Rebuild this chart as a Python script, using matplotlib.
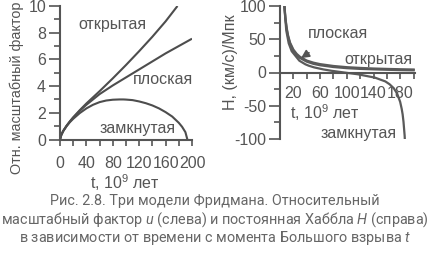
import numpy as np
import matplotlib
matplotlib.use("Agg")
import matplotlib.pyplot as plt
from matplotlib.ticker import MultipleLocator, FixedLocator

plt.rcParams["font.family"] = ["Liberation Sans", "DejaVu Sans"]
plt.rcParams["mathtext.fontset"] = "custom"
plt.rcParams["mathtext.rm"] = "Liberation Sans"
plt.rcParams["mathtext.it"] = "Roboto:italic"
plt.rcParams["axes.unicode_minus"] = False

GRAY = "#555555"
LINE = "#4d4d4d"
FS = 11.5

# масштабный фактор (слева), t в 10^9 лет
t_open  = [0, 2, 5, 10, 15, 20, 30, 40, 60, 80, 100, 120, 140, 160, 178]
a_open  = [0, 0.35, 0.65, 1.03, 1.36, 1.66, 2.2, 2.7, 3.62, 4.58, 5.58, 6.62, 7.7, 8.85, 10.0]
t_flat  = [0, 2, 5, 10, 15, 20, 30, 40, 60, 80, 100, 120, 140, 160, 180, 200]
a_flat  = [0, 0.35, 0.65, 1.03, 1.35, 1.64, 2.15, 2.6, 3.4, 4.05, 4.65, 5.25, 5.85, 6.45, 7.0, 7.55]
t_closed = [0, 2, 5, 10, 15, 20, 30, 40, 50, 60, 70, 80, 90, 96, 100, 110, 120, 130,
            140, 150, 160, 170, 180, 185, 190, 193]
a_closed = [0, 0.35, 0.64, 1.0, 1.3, 1.55, 1.98, 2.33, 2.6, 2.8, 2.92, 2.98, 3.0, 3.0,
            2.99, 2.95, 2.85, 2.72, 2.55, 2.33, 2.05, 1.72, 1.25, 0.95, 0.55, 0.0]

# постоянная Хаббла (справа), (км/с)/Мпк
th_flat = [6, 8, 10, 12, 15, 20, 25, 30, 40, 50, 60, 80, 100, 120, 140, 160, 180, 200]
h_flat  = [108.7, 81.5, 65.2, 54.3, 43.5, 32.6, 26.1, 21.7, 16.3, 13.0, 10.9, 8.2,
           6.5, 5.4, 4.7, 4.1, 3.6, 3.3]
th_open = [6, 8, 10, 12, 15, 20, 25, 30, 40, 50, 60, 80, 100, 120, 140, 160, 180, 200]
h_open  = [110, 83, 67, 56, 45, 34.5, 28, 23.5, 18, 14.8, 12.6, 9.8, 8.0, 6.9, 6.0,
           5.4, 4.9, 4.5]
th_closed = [5.6, 9.4, 13, 17.5, 29, 38, 43, 51, 65, 77, 96, 116, 142, 157.6, 164,
             170.2, 175.4, 179.8, 182.1, 183.5, 184.8, 186.5, 187.5]
h_closed  = [110, 63, 44, 32, 17.7, 12.3, 10.2, 7.7, 4.6, 2.6, 0, -2.6, -7.7, -13.4,
             -17.7, -23.6, -32, -44.2, -54.7, -63, -74.2, -95, -114]

W, H = 430, 259
fig = plt.figure(figsize=(W / 100, H / 100), dpi=100)

def px(x, y):
    return x / W, 1 - y / H

# ---- левая панель
axL = fig.add_axes([60 / W, 1 - 139.5 / H, 132 / W, 133.5 / H])
for t, a in [(t_open, a_open), (t_flat, a_flat), (t_closed, a_closed)]:
    axL.plot(t, a, color=LINE, lw=1.5, solid_capstyle="butt")
axL.set_xlim(0, 200)
axL.set_ylim(0, 10)
axL.spines["top"].set_visible(False)
axL.spines["right"].set_visible(False)
axL.xaxis.set_major_locator(MultipleLocator(40))
axL.xaxis.set_minor_locator(MultipleLocator(20))
axL.yaxis.set_major_locator(MultipleLocator(2))
axL.yaxis.set_minor_locator(MultipleLocator(1))
axL.tick_params(axis="y", which="major", length=8, width=1.2, pad=2, labelsize=FS, colors=GRAY)
axL.tick_params(axis="y", which="minor", length=4, width=1.2, colors=GRAY)
axL.tick_params(axis="x", which="both", length=4, width=1.2, pad=8, labelsize=FS, colors=GRAY)
for s in axL.spines.values():
    s.set_color(GRAY); s.set_linewidth(1.5)
axL.text(79, 8.6, "открытая", fontsize=FS, color=GRAY, ha="center", va="center")
axL.text(156, 4.46, "плоская", fontsize=FS, color=GRAY, ha="center", va="center")
axL.text(117, 0.86, "замкнутая", fontsize=FS, color=GRAY, ha="center", va="center")
fig.text(*px(17, 88), "Отн. масштабный фактор", rotation=90, fontsize=10.4, color=GRAY,
         ha="center", va="center")
fig.text(*px(125, 183), "t, 10$^9$ лет", fontsize=FS, color=GRAY, ha="center", va="center")

# ---- правая панель
axR = fig.add_axes([280 / W, 1 - 139 / H, 135 / W, 133 / H])
for t, h in [(th_open, h_open), (th_flat, h_flat), (th_closed, h_closed)]:
    axR.plot(t, h, color="#5a5a5a", lw=1.6)
axR.set_xlim(0, 202)
axR.set_ylim(-100, 100)
axR.spines["top"].set_visible(False)
axR.spines["right"].set_visible(False)
axR.spines["bottom"].set_position(("data", 0))
axR.xaxis.set_major_locator(FixedLocator([20, 60, 100, 140, 180]))
axR.xaxis.set_minor_locator(FixedLocator([40, 80, 120, 160, 200]))
axR.yaxis.set_major_locator(MultipleLocator(50))
axR.yaxis.set_minor_locator(MultipleLocator(25))
axR.tick_params(axis="y", which="major", length=8, width=1.2, pad=2, labelsize=FS, colors=GRAY)
axR.tick_params(axis="y", which="minor", length=4, width=1.2, colors=GRAY)
axR.tick_params(axis="x", which="both", length=4, width=1.2, pad=6, labelsize=FS, colors=GRAY)
for s in axR.spines.values():
    s.set_color(GRAY); s.set_linewidth(1.5)
axR.annotate("плоская", xy=(31.5, 21.7), xytext=(87, 59), fontsize=FS, color=GRAY,
             ha="center", va="center",
             arrowprops=dict(arrowstyle="-|>", color=GRAY, lw=1.3, shrinkA=12, shrinkB=0))
axR.text(147, 19, "открытая", fontsize=FS, color=GRAY, ha="center", va="center")
axR.text(117, -91, "замкнутая", fontsize=FS, color=GRAY, ha="center", va="center")
fig.text(*px(231, 62), "H, (км/с)/Мпк", rotation=90, fontsize=FS, color=GRAY,
         ha="center", va="center")
fig.text(*px(325, 113), "t, 10$^9$ лет", fontsize=FS, color=GRAY, ha="center", va="center")

# ---- подпись
cap = ["Рис. 2.8. Три модели Фридмана. Относительный",
       "масштабный фактор $u$ (слева) и постоянная Хаббла $H$ (справа)",
       "в зависимости от времени с момента Большого взрыва $t$"]
for y, line in zip([201, 220, 238], cap):
    fig.text(*px(215, y), line, fontsize=10.4, color="#666666", family="Roboto",
             ha="center", va="center")

fig.savefig("out.png", dpi=100)
